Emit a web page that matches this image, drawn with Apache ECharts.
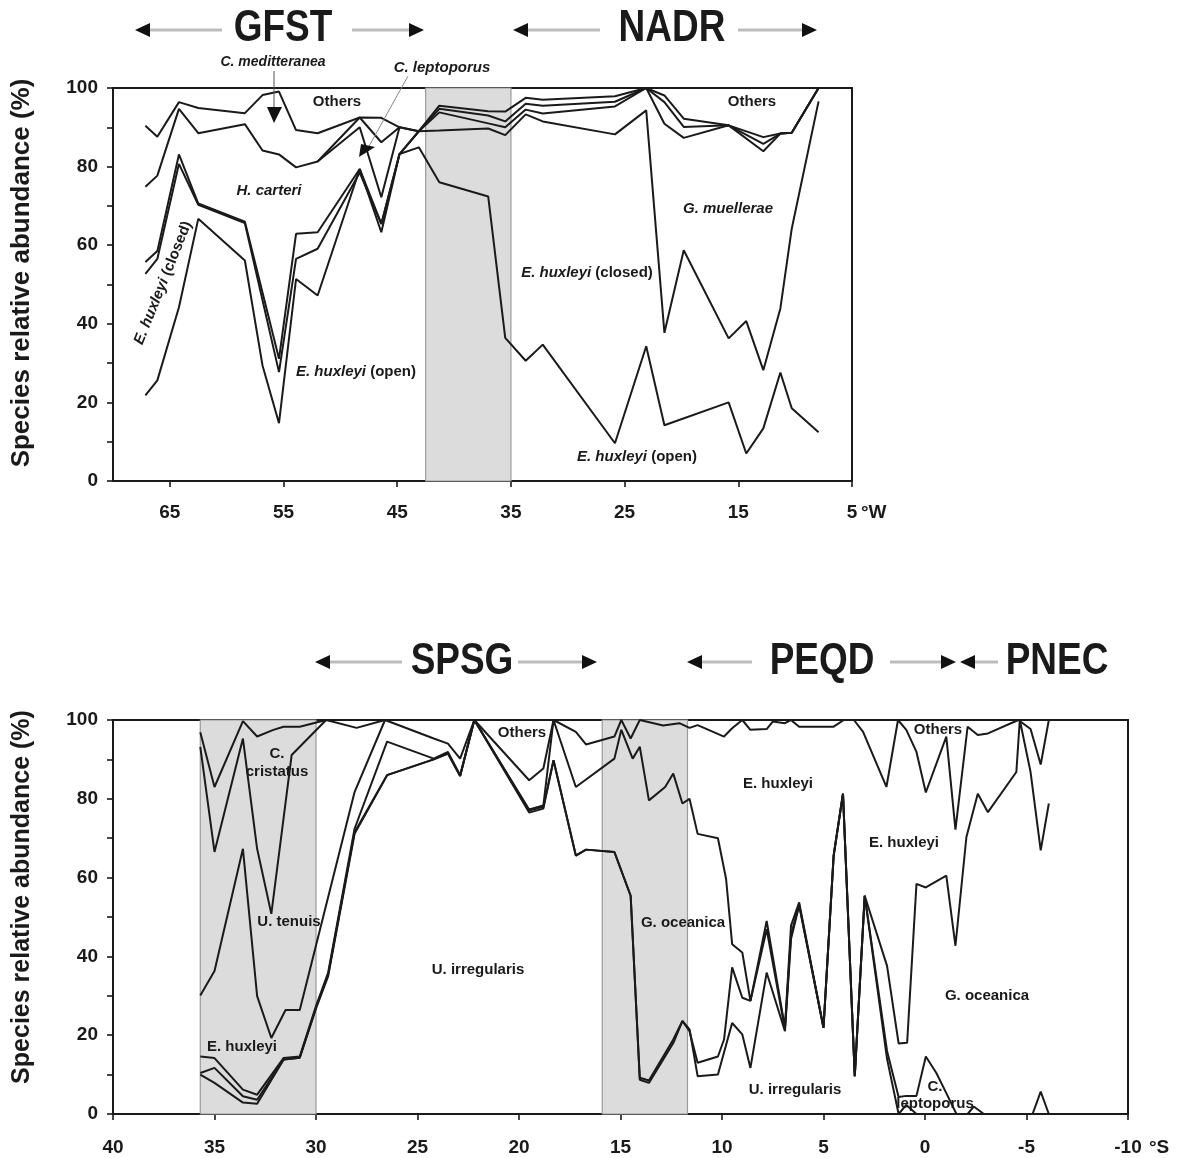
<!DOCTYPE html>
<html><head><meta charset="utf-8">
<script src="https://cdn.jsdelivr.net/npm/echarts@6/dist/echarts.min.js"></script>
<style>html,body{margin:0;padding:0;background:#fff}#c{width:1178px;height:1158px}</style>
</head><body><div id="c"></div>
<script>
// ---------- TOP PANEL (North Atlantic, °W) ----------
const topXTicks = [5, 15, 25, 35, 45, 55, 65];
const topBands = [[42.5, 35.0]];

const topOpenX = [67.15, 66.1, 64.2, 62.5, 58.4, 56.85, 55.4, 53.9, 52.0, 48.3, 46.4, 44.8, 43.1, 41.3, 37.0, 35.5, 33.7, 32.2, 25.85, 23.1, 21.5, 15.85, 14.3, 12.8, 11.3, 10.3, 7.94];
const topOpenY = [21.8, 25.6, 44.2, 66.7, 56.1, 29.4, 14.7, 51.4, 47.2, 79.4, 63.3, 83.2, 84.9, 76.0, 72.4, 36.4, 30.6, 34.7, 9.6, 34.3, 14.2, 20.0, 7.0, 13.4, 27.6, 18.5, 12.4];

const topClosedX = [67.15, 66.1, 64.2, 62.5, 58.4, 55.4, 53.9, 52.0, 48.3, 46.4, 44.8, 43.1, 41.3, 37.0, 35.5, 33.7, 32.2, 25.85, 23.1, 21.5, 19.8, 15.85, 14.3, 12.8, 11.3, 10.3, 7.94];
const topClosedY = [52.7, 56.5, 80.7, 70.3, 65.6, 27.7, 56.5, 59.1, 78.5, 65.4, 83.2, 89.0, 89.2, 89.7, 88.0, 93.3, 91.5, 88.2, 94.3, 37.7, 58.7, 36.3, 40.7, 28.2, 43.9, 64.2, 96.6];

const topMuellX = [67.15, 66.1, 64.2, 62.5, 58.4, 55.4, 53.9, 52.0, 48.3, 46.4, 44.8, 43.1, 41.3, 37.0, 35.5, 33.7, 32.2, 25.85, 23.1, 21.5, 19.8, 15.85, 12.8, 11.3, 10.3, 7.94];
const topMuellY = [55.7, 58.5, 83.1, 70.6, 66.0, 31.1, 62.9, 63.3, 79.4, 65.4, 83.2, 89.0, 93.8, 91.0, 90.0, 94.5, 93.5, 95.3, 100, 90.9, 87.3, 90.5, 83.9, 88.4, 88.6, 100];

const topCarteriX = [67.15, 66.1, 64.2, 62.5, 58.4, 56.85, 55.4, 53.9, 52.0, 48.3, 46.4, 44.8, 43.1, 41.3, 37.0, 35.5, 33.7, 32.2, 25.85, 23.1, 21.5, 19.8, 15.85, 12.8, 11.3, 10.3, 7.94];
const topCarteriY = [74.9, 77.7, 94.7, 88.5, 90.8, 84.1, 83.1, 79.8, 81.3, 90.0, 72.2, 90.0, 89.0, 94.7, 93.0, 91.5, 96.0, 95.5, 96.5, 100, 96.4, 90.1, 90.5, 85.8, 88.4, 88.6, 100];

const topLeptoX = [52.0, 48.3, 46.4, 44.8];
const topLeptoY = [81.3, 92.5, 86.2, 90.0];

const topOthersX = [67.15, 66.1, 64.2, 62.5, 58.4, 56.85, 55.4, 53.9, 52.0, 48.3, 46.4, 44.8, 43.1, 41.3, 37.0, 35.5, 33.7, 32.2, 25.85, 23.1, 21.5, 19.8, 15.85, 12.8, 11.3, 10.3, 7.94];
const topOthersY = [90.4, 87.6, 96.4, 94.9, 93.6, 98.2, 99.1, 89.3, 88.5, 92.5, 92.4, 90.0, 89.0, 95.5, 94.1, 94.0, 97.5, 97.0, 97.9, 100, 98.1, 92.2, 90.5, 87.5, 88.4, 88.6, 100];

// ---------- BOTTOM PANEL (Pacific, °S) ----------
const botBands = [[35.7, 30.0], [15.9, 11.7]];

const botOthersX = [35.7, 35.0, 33.6, 32.9, 32.1, 31.6, 30.8, 29.5, 28.0, 26.6, 24.2, 23.5, 22.9, 22.2, 19.5, 18.8, 18.3, 17.2, 16.7, 15.3, 14.96, 14.5, 14.05, 12.9, 12.1, 11.6, 11.2, 9.9, 9.5, 9.0, 8.6, 7.8, 7.5, 6.9, 6.6, 6.2, 4.5, 4.0, 3.5, 3.05, 1.9, 1.33, 0.92, 0.42, -0.04, -1.05, -1.5, -2.1, -2.6, -3.1, -4.6, -5.2, -5.7, -6.1];
const botOthersY = [96.9, 83.0, 99.7, 95.8, 97.5, 98.3, 98.3, 100, 98.0, 100, 95.3, 94.0, 90.2, 100, 84.7, 87.7, 100, 97.0, 93.8, 95.8, 100, 95.3, 100, 98.6, 99.2, 98.0, 98.7, 95.8, 97.9, 100, 97.5, 97.7, 99.6, 99.2, 100, 98.3, 98.3, 100, 100, 97.0, 83.0, 100, 97.5, 91.9, 81.6, 95.8, 72.2, 98.3, 96.2, 96.6, 100, 97.7, 88.7, 100];

const botCristX = [35.7, 35.0, 33.6, 32.9, 32.2, 31.2, 29.5];
const botCristY = [93.2, 66.5, 95.3, 67.3, 50.8, 91.1, 100];

const botTenuisX = [35.7, 35.0, 33.6, 32.9, 32.2, 31.5, 30.8, 28.1, 26.6];
const botTenuisY = [30.1, 36.3, 67.3, 29.9, 19.3, 26.4, 26.4, 81.7, 100];

const botGoceX = [35.7, 35.0, 33.6, 32.9, 31.6, 30.8, 30.0, 29.4, 28.1, 26.5, 24.2, 23.5, 22.9, 22.2, 19.5, 18.8, 18.3, 17.2, 15.3, 14.96, 14.4, 14.05, 13.6, 12.8, 12.4, 11.95, 11.6, 11.2, 10.2, 9.8, 9.5, 9.0, 8.6, 7.8, 6.9, 6.6, 6.2, 5.0, 4.5, 4.04, 3.46, 2.97, 1.87, 1.3, 0.88, 0.42, -0.04, -1.05, -1.5, -2.04, -2.6, -3.1, -4.5, -4.67, -5.2, -5.7, -6.1];
const botGoceY = [14.6, 14.2, 6.2, 4.9, 14.2, 14.6, 27.4, 35.9, 72.4, 94.5, 90.2, 91.9, 86.0, 100, 77.3, 78.3, 100, 83.0, 90.2, 97.5, 90.2, 93.2, 79.6, 83.0, 86.4, 78.8, 80.0, 71.1, 70.0, 59.7, 43.1, 41.0, 28.7, 49.0, 21.9, 47.8, 53.7, 21.9, 65.6, 81.3, 9.6, 55.4, 37.6, 17.9, 18.1, 58.4, 57.5, 60.5, 42.7, 70.3, 81.3, 76.6, 86.8, 100, 86.8, 66.9, 78.8];

const botClepX = [35.7, 35.0, 33.6, 32.9, 31.6, 30.8, 30.0, 29.4, 28.1, 26.5, 24.2, 23.5, 22.9, 22.2, 19.5, 18.8, 18.3, 17.2, 16.7, 15.3, 14.5, 14.05, 13.6, 12.4, 11.95, 11.6, 11.2, 10.2, 9.9, 9.5, 9.0, 8.6, 7.8, 6.9, 6.6, 6.2, 5.0, 4.5, 4.04, 3.46, 2.97, 1.87, 1.3, 0.92, 0.42, -0.04, -0.56, -1.05, -1.55, -2.1, -2.4, -2.9, -5.3, -5.7, -6.1];
const botClepY = [10.4, 11.7, 4.5, 3.6, 13.8, 14.3, 27.0, 35.5, 71.5, 86.0, 90.0, 91.5, 85.8, 100, 77.0, 78.0, 89.8, 65.6, 67.1, 66.5, 55.4, 9.2, 8.5, 18.9, 23.6, 21.0, 13.0, 14.6, 18.9, 37.2, 29.5, 28.7, 46.9, 21.5, 45.5, 53.2, 21.9, 65.6, 81.3, 9.6, 55.4, 16.0, 4.3, 4.6, 4.6, 14.6, 10.4, 5.3, 0, 0, 1.9, 0, 0, 5.7, 0];

const botUirrX = [35.7, 35.0, 33.6, 32.9, 31.6, 30.8, 30.0, 29.4, 28.1, 26.5, 24.2, 23.5, 22.9, 22.2, 19.5, 18.8, 18.3, 17.2, 16.7, 15.3, 14.5, 14.05, 13.6, 12.4, 11.95, 11.6, 11.2, 10.2, 9.5, 9.0, 8.6, 7.8, 6.9, 6.6, 6.2, 5.0, 4.5, 4.04, 3.46, 2.97, 1.87, 1.3, 0.92, 0.42];
const botUirrY = [10.0, 7.9, 2.9, 2.6, 13.8, 14.3, 26.8, 35.0, 71.1, 86.0, 90.0, 91.5, 85.8, 100, 76.5, 77.5, 89.8, 65.6, 67.1, 66.5, 55.4, 8.7, 7.9, 18.0, 23.6, 21.5, 9.6, 10.0, 23.1, 20.2, 11.7, 35.9, 21.0, 44.4, 52.9, 21.9, 65.6, 81.3, 9.6, 55.4, 14.0, 0, 2.3, 0];

// ---------- build ----------
const FF = '"Liberation Sans", Arial, Helvetica, sans-serif';
const INK = '#1a1a1a';
const pairs = (xs, ys) => xs.map((x, i) => [x, ys[i]]);
function lineS(gi, xs, ys) {
  return { type: 'line', xAxisIndex: gi, yAxisIndex: gi, data: pairs(xs, ys), symbol: 'none', showSymbol: false,
    lineStyle: { color: INK, width: 2 }, z: 3, silent: true, animation: false };
}
function bandS(gi, bands) {
  return { type: 'line', xAxisIndex: gi, yAxisIndex: gi, data: [], z: 1, silent: true, animation: false,
    markArea: { silent: true, itemStyle: { color: '#dcdcdc', borderColor: '#9a9a9a', borderWidth: 1.2 },
      data: bands.map(b => [{ xAxis: b[0] }, { xAxis: b[1] }]) } };
}
const axisLineStyle = { color: INK, width: 2 };
const tickStyle = { color: INK, width: 1.6 };
const lblStyle = { color: INK, fontSize: 19, fontWeight: 'bold', fontFamily: FF };
function yAx(gi) {
  return { gridIndex: gi, type: 'value', min: 0, max: 100, interval: 20,
    axisLine: { show: true, onZero: false, lineStyle: axisLineStyle }, axisTick: { show: true, length: 6, lineStyle: tickStyle },
    minorTick: { show: true, splitNumber: 2, length: 6, lineStyle: tickStyle },
    axisLabel: Object.assign({ margin: 15 }, lblStyle), splitLine: { show: false }, minorSplitLine: { show: false } };
}

// annotation helpers
function txt(x, y, text, size, opts) {
  opts = opts || {};
  return { type: 'text', x: x, y: y, rotation: opts.rot || 0, scaleX: opts.sx || 1, silent: true, z: 20,
    style: { text: text, fill: INK, font: (opts.italic ? 'italic ' : '') + 'bold ' + size + 'px ' + FF,
      align: opts.align || 'center', verticalAlign: 'middle', lineHeight: opts.lh || size * 1.2,
      rich: opts.rich } };
}
function head(x, y, text) { return txt(x, y, text, 44, { sx: 0.84 }); }
function arrow(tip, end, y, dir) { // dir -1 : head points left ; +1 : head points right
  const L = 15, H = 7;
  return [
    { type: 'line', silent: true, z: 19, shape: { x1: tip - dir * L + dir * 2, y1: y, x2: end, y2: y }, style: { stroke: '#bdbdbd', lineWidth: 3 } },
    { type: 'polygon', silent: true, z: 20, shape: { points: [[tip, y], [tip - dir * L, y - H], [tip - dir * L, y + H]] }, style: { fill: '#111' } }
  ];
}
const italicRich = { i: { fontStyle: 'italic', fontWeight: 'bold', fontSize: 15, fontFamily: FF, fill: INK } };

const graphics = [].concat(
  // region headers
  arrow(135, 222, 30, -1), [head(283, 29, 'GFST')], arrow(424, 352, 30, 1),
  arrow(513, 600, 30, -1), [head(672, 29, 'NADR')], arrow(817, 738, 30, 1),
  arrow(315, 402, 662, -1), [head(462, 662, 'SPSG')], arrow(597, 518, 662, 1),
  arrow(687, 752, 662, -1), [head(822, 662, 'PEQD')], arrow(956, 890, 662, 1),
  arrow(960, 998, 662, -1), [head(1057, 662, 'PNEC')],
  // y-axis titles
  [txt(22, 273, 'Species relative abundance (%)', 26, { rot: Math.PI / 2 }),
   txt(22, 897, 'Species relative abundance (%)', 25, { rot: Math.PI / 2 })],
  // unit suffixes
  [txt(861, 513, '°W', 19, { align: 'left' }), txt(1149, 1148, '°S', 19, { align: 'left' })],
  // top panel labels
  [txt(273, 62, 'C. meditteranea', 14, { italic: true }),
   { type: 'line', silent: true, z: 19, shape: { x1: 274, y1: 71, x2: 274, y2: 108 }, style: { stroke: '#555', lineWidth: 1 } },
   { type: 'polygon', silent: true, z: 20, shape: { points: [[267, 107], [282, 107], [274, 123]] }, style: { fill: '#111' } },
   txt(442, 68, 'C. leptoporus', 15, { italic: true }),
   { type: 'line', silent: true, z: 19, shape: { x1: 408, y1: 76, x2: 368, y2: 148 }, style: { stroke: '#888', lineWidth: 1 } },
   { type: 'polygon', silent: true, z: 20, shape: { points: [[359, 157], [361, 144], [375, 147]] }, style: { fill: '#111' } },
   txt(337, 102, 'Others', 15),
   txt(269, 191, 'H. carteri', 15, { italic: true }),
   txt(163, 283, '{i|E. huxleyi} (closed)', 15, { rot: 68 * Math.PI / 180, rich: italicRich }),
   txt(356, 372, '{i|E. huxleyi} (open)', 15, { rich: italicRich }),
   txt(752, 102, 'Others', 15),
   txt(728, 209, 'G. muellerae', 15, { italic: true }),
   txt(587, 273, '{i|E. huxleyi} (closed)', 15, { rich: italicRich }),
   txt(637, 457, '{i|E. huxleyi} (open)', 15, { rich: italicRich })],
  // bottom panel labels
  [txt(277, 763, 'C.\ncristatus', 15, { lh: 18 }),
   txt(289, 922, 'U. tenuis', 15),
   txt(242, 1047, 'E. huxleyi', 15),
   txt(478, 970, 'U. irregularis', 15),
   txt(522, 733, 'Others', 15),
   txt(683, 923, 'G. oceanica', 15),
   txt(778, 784, 'E. huxleyi', 15),
   txt(904, 843, 'E. huxleyi', 15),
   txt(938, 730, 'Others', 15),
   txt(987, 996, 'G. oceanica', 15),
   txt(795, 1090, 'U. irregularis', 15),
   txt(935, 1095, 'C.\nleptoporus', 15, { lh: 17 })]
);

const option = {
  animation: false,
  backgroundColor: '#ffffff',
  grid: [
    { left: 113, top: 88, width: 739, height: 393, show: true, borderColor: INK, borderWidth: 2, backgroundColor: 'transparent' },
    { left: 113, top: 720, width: 1015, height: 394, show: true, borderColor: INK, borderWidth: 2, backgroundColor: 'transparent' }
  ],
  xAxis: [
    { gridIndex: 0, type: 'value', min: 5, max: 70, inverse: true,
      axisLine: { show: true, onZero: false, lineStyle: axisLineStyle },
      axisTick: { show: true, length: 6, lineStyle: tickStyle, customValues: topXTicks },
      axisLabel: Object.assign({ margin: 22, customValues: topXTicks }, lblStyle),
      splitLine: { show: false } },
    { gridIndex: 1, type: 'value', min: -10, max: 40, interval: 5, inverse: true,
      axisLine: { show: true, onZero: false, lineStyle: axisLineStyle },
      axisTick: { show: true, length: 6, lineStyle: tickStyle },
      axisLabel: Object.assign({ margin: 24, showMinLabel: true, showMaxLabel: true }, lblStyle),
      splitLine: { show: false } }
  ],
  yAxis: [yAx(0), yAx(1)],
  series: [
    bandS(0, topBands),
    lineS(0, topOpenX, topOpenY),
    lineS(0, topClosedX, topClosedY),
    lineS(0, topMuellX, topMuellY),
    lineS(0, topCarteriX, topCarteriY),
    lineS(0, topLeptoX, topLeptoY),
    lineS(0, topOthersX, topOthersY),
    bandS(1, botBands),
    lineS(1, botUirrX, botUirrY),
    lineS(1, botClepX, botClepY),
    lineS(1, botGoceX, botGoceY),
    lineS(1, botTenuisX, botTenuisY),
    lineS(1, botCristX, botCristY),
    lineS(1, botOthersX, botOthersY)
  ],
  graphic: { elements: graphics }
};
const chart = echarts.init(document.getElementById('c'), null, { renderer: 'canvas' });
chart.setOption(option);
</script></body></html>
